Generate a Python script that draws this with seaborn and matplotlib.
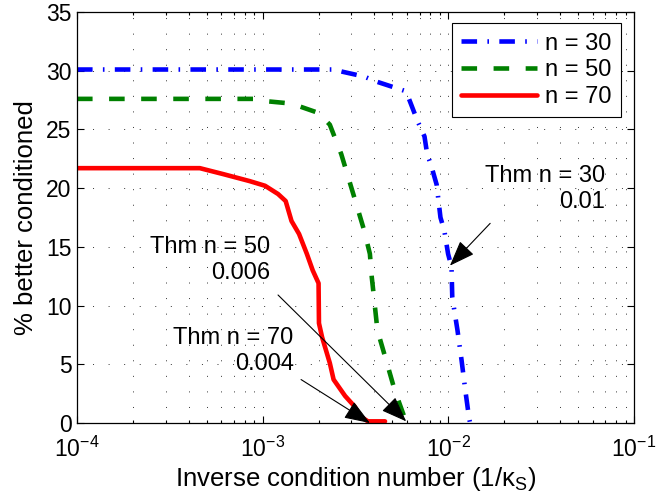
import pandas as pd
import seaborn as sns
import matplotlib.pyplot as plt
from matplotlib.ticker import LogLocator, MultipleLocator, NullFormatter

# ---------------------------------------
# Data
# ---------------------------------------
x_n30 = [1e-4, 0.00241, 0.00271, 0.00352, 0.00405, 0.00578, 0.00607, 0.00683,
         0.00744, 0.00769, 0.00806, 0.00865, 0.00907, 0.00951, 0.00997, 0.0104,
         0.0105, 0.0112, 0.01177, 0.01234, 0.01294, 0.0131]
y_n30 = [30.1, 30.1, 29.9, 29.5, 29.1, 28.3, 27.8, 25.7,
         24.4, 22.9, 22.0, 20.3, 17.5, 16.4, 14.4, 13.3,
         10.7, 7.9, 5.4, 2.8, 0.4, 0.0]

x_n50 = [1e-4, 0.000935, 0.00105, 0.00143, 0.0020, 0.0023, 0.00265, 0.0032,
         0.00352, 0.00378, 0.00387, 0.00392, 0.00415, 0.00467, 0.00514, 0.00578,
         0.00593]
y_n50 = [27.6, 27.6, 27.4, 27.2, 26.4, 25.4, 22.9, 18.6,
         16.4, 14.4, 12.4, 11.6, 7.9, 5.1, 2.8, 0.56,
         0.1]

x_n70 = [1e-4, 0.000459, 0.000611, 0.00085, 0.00103, 0.00121, 0.00133, 0.00143,
         0.00157, 0.00173, 0.00186, 0.0020, 0.00201, 0.00209, 0.0023, 0.00241,
         0.00278, 0.00313, 0.00336, 0.00369, 0.00456]
y_n70 = [21.7, 21.7, 21.2, 20.6, 20.2, 19.5, 18.9, 17.2,
         16.1, 14.4, 13.0, 11.9, 8.5, 7.3, 5.1, 3.7,
         2.3, 1.4, 0.56, 0.14, 0.14]

series_labels = ["n = 30", "n = 50", "n = 70"]

# theorem annotations: text, text anchor, arrow tail, arrow tip
thm_labels = ["Thm n = 30\n0.01", "Thm n = 50\n0.006", "Thm n = 70\n0.004"]
thm_text_xy = [(0.0695, 19.9), (0.0011, 13.85), (0.00147, 6.1)]
thm_tail = [(0.0168, 17.0), (0.00121, 10.9), (0.00161, 3.7)]
thm_tip = [(0.0102, 13.4), (0.00593, 0.14), (0.00378, 0.0)]

# ---------------------------------------
# Style
# ---------------------------------------
sns.set_theme(style="ticks")
plt.rcParams["font.family"] = ["Liberation Sans", "DejaVu Sans"]
plt.rcParams["mathtext.fontset"] = "custom"
plt.rcParams["mathtext.rm"] = "Liberation Sans"
plt.rcParams["mathtext.it"] = "Liberation Sans:italic"
plt.rcParams["mathtext.bf"] = "Liberation Sans:bold"
plt.rcParams["mathtext.default"] = "regular"
plt.rcParams["text.color"] = "black"
plt.rcParams["axes.labelcolor"] = "black"

FS_TICK = 16.5
FS_LABEL = 18.5
FS_TEXT = 17

fig = plt.figure(figsize=(6.57, 4.99), dpi=100)
ax = fig.add_axes([0.1172, 0.1523, 0.8478, 0.8237])

styles = [
    ("#0000ff", (0, (3.4, 2.25, 0.35, 2.25))),
    ("#008000", (0, (3.4, 3.6))),
    ("#ff0000", "-"),
]
for label, xs, ys, (color, ls) in zip(series_labels,
                                      [x_n30, x_n50, x_n70],
                                      [y_n30, y_n50, y_n70],
                                      styles):
    df = pd.DataFrame({"x": xs, "y": ys})
    sns.lineplot(data=df, x="x", y="y", ax=ax, color=color, linestyle=ls,
                 linewidth=3.3, label=label, estimator=None, sort=False)

ax.set_xscale("log")
ax.set_xlim(1e-4, 1e-1)
ax.set_ylim(0, 35)
ax.xaxis.set_major_locator(LogLocator(base=10, numticks=10))
ax.xaxis.set_minor_locator(LogLocator(base=10, subs=range(2, 10), numticks=20))
ax.xaxis.set_minor_formatter(NullFormatter())
ax.yaxis.set_major_locator(MultipleLocator(5))

# dotted MATLAB-like grid
grid_kw = dict(color="0.2", linestyle=(0, (1, 15)), linewidth=0.7)
ax.grid(True, which="both", axis="x", **grid_kw)
ax.grid(True, which="major", axis="y", **grid_kw)

for sp in ax.spines.values():
    sp.set_visible(True)
    sp.set_color("black")
    sp.set_linewidth(0.9)

ax.tick_params(which="both", direction="in", top=True, right=True,
               colors="black", width=0.8, labelsize=FS_TICK)
ax.tick_params(which="major", length=5)
ax.tick_params(which="minor", length=2.5)
ax.tick_params(axis="x", which="major", pad=10)
ax.tick_params(axis="y", which="major", pad=4)

ax.set_xlabel("Inverse condition number (1/κ$_\\mathregular{S}$)", fontsize=FS_LABEL, labelpad=2)
ax.set_ylabel("% better conditioned", fontsize=FS_LABEL, labelpad=6)

for txt, (tx, ty), tail, tip in zip(thm_labels, thm_text_xy, thm_tail, thm_tip):
    ax.text(tx, ty, txt, ha="right", va="center", fontsize=FS_TEXT,
            linespacing=1.25, multialignment="right")
    ax.annotate("", xy=tip, xytext=tail, annotation_clip=False,
                arrowprops=dict(arrowstyle="-|>,head_length=0.8,head_width=0.3",
                                mutation_scale=20, lw=0.8, color="black",
                                shrinkA=0, shrinkB=0))

leg = ax.legend(loc="upper right", bbox_to_anchor=(0.977, 0.973), borderaxespad=0,
                fontsize=FS_TEXT, handlelength=3.2, handletextpad=0.35, labelspacing=0.2,
                borderpad=0.4, fancybox=False, framealpha=1, edgecolor="black")
leg.get_frame().set_linewidth(0.8)

fig.savefig("out.png", dpi=100)
